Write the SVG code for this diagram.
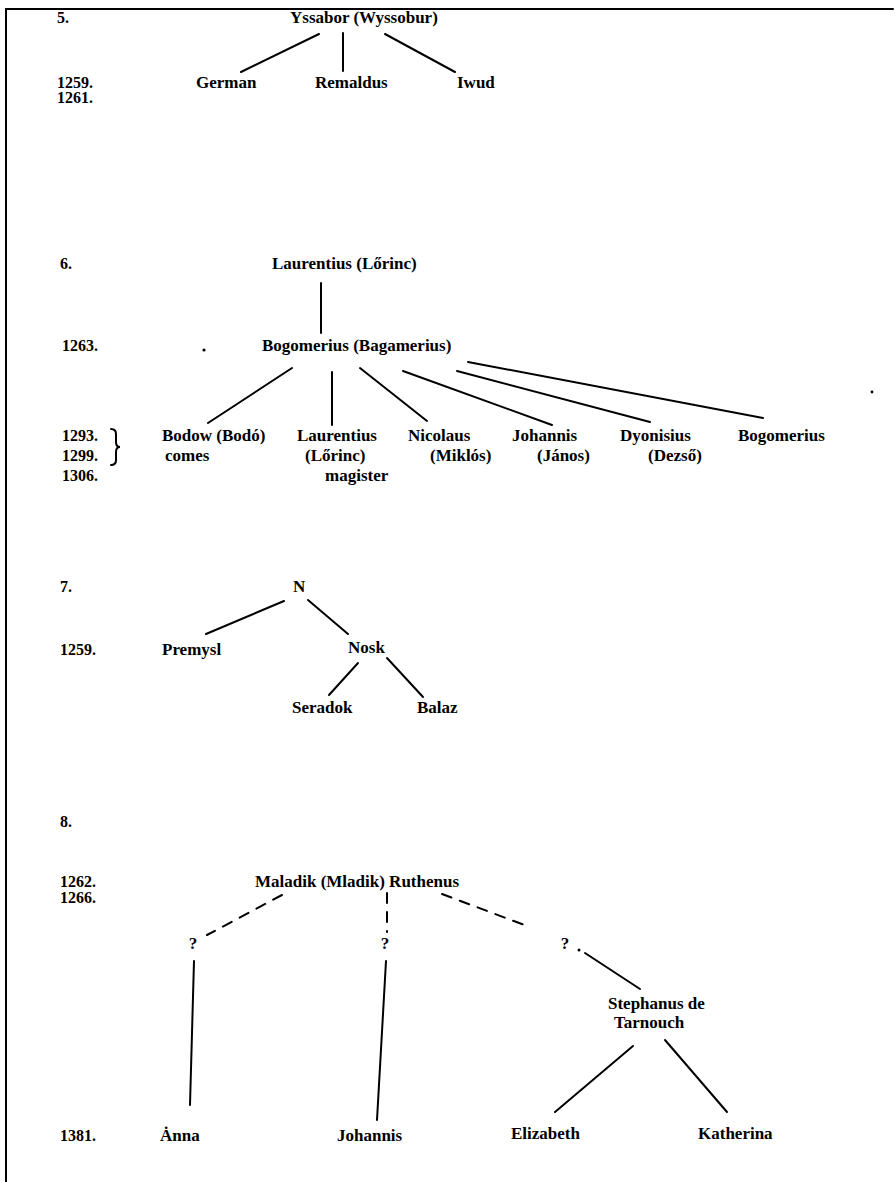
<svg xmlns="http://www.w3.org/2000/svg" width="895" height="1182" viewBox="0 0 895 1182">
<style>
text{font-family:"Liberation Serif","Times New Roman",serif;font-weight:bold;font-size:17px;fill:#000}
.d{font-size:16px}
.c{text-anchor:middle}
line,path{stroke:#000;stroke-width:2;fill:none;stroke-linecap:round}
.dash{stroke-dasharray:10 9}
</style>
<rect width="895" height="1182" fill="#fff"/>
<path id="frame" d="M6,1182 V9 H893"/>
<g id="labels">
<text class="d" x="57" y="23">5.</text>
<text class="d" x="57" y="88">1259.</text>
<text class="d" x="57" y="103">1261.</text>
<text class="d" x="60" y="269">6.</text>
<text class="d" x="62" y="351">1263.</text>
<text class="d" x="62" y="441">1293.</text>
<text class="d" x="62" y="461">1299.</text>
<text class="d" x="62" y="481">1306.</text>
<text class="d" x="60" y="592">7.</text>
<text class="d" x="60" y="655">1259.</text>
<text class="d" x="60" y="827">8.</text>
<text class="d" x="60" y="887">1262.</text>
<text class="d" x="60" y="903">1266.</text>
<text class="d" x="60" y="1141">1381.</text>
<path d="M111,429 Q116,429 116,434 V442 Q116,447 120,447 Q116,447 116,452 V460 Q116,465 111,465" stroke-width="1.5"/>
<circle cx="204" cy="350" r="1.6" fill="#000" stroke="none"/>
<circle cx="872" cy="392" r="1.4" fill="#000" stroke="none"/>
</g>
<g id="connectors">
<line x1="319" y1="34" x2="241" y2="72"/>
<line x1="343" y1="33" x2="343" y2="71"/>
<line x1="385" y1="34" x2="455" y2="72"/>
<line x1="321" y1="283" x2="321" y2="333"/>
<line x1="292" y1="368" x2="208" y2="423"/>
<line x1="332" y1="372" x2="332" y2="425"/>
<line x1="360" y1="368" x2="427" y2="421"/>
<line x1="403" y1="371" x2="552" y2="425"/>
<line x1="457" y1="371" x2="650" y2="422"/>
<line x1="468" y1="362" x2="763" y2="418"/>
<line x1="284" y1="601" x2="206" y2="634"/>
<line x1="308" y1="600" x2="348" y2="634"/>
<line x1="358" y1="663" x2="329" y2="695"/>
<line x1="387" y1="658" x2="423" y2="697"/>
<line class="dash" x1="282" y1="895" x2="207" y2="935"/>
<line class="dash" x1="387" y1="893" x2="387" y2="932"/>
<line class="dash" x1="442" y1="894" x2="527" y2="926"/>
<line x1="585" y1="953" x2="640" y2="989"/>
<circle cx="579" cy="950" r="1.5" fill="#000" stroke="none"/>
<line x1="194" y1="961" x2="190" y2="1105"/>
<line x1="386" y1="961" x2="377" y2="1120"/>
<line x1="633" y1="1046" x2="555" y2="1112"/>
<line x1="665" y1="1040" x2="727" y2="1112"/>
</g>
<g id="n-yssabor"><text x="290" y="23">Yssabor (Wyssobur)</text></g>
<g id="n-german"><text x="196" y="88">German</text></g>
<g id="n-remaldus"><text x="315" y="88">Remaldus</text></g>
<g id="n-iwud"><text x="457" y="88">Iwud</text></g>
<g id="n-laurentius"><text x="272" y="269">Laurentius (Lőrinc)</text></g>
<g id="n-bogomerius"><text x="262" y="351">Bogomerius (Bagamerius)</text></g>
<g id="n-bodow"><text x="162" y="441">Bodow (Bodó)</text><text x="165" y="461">comes</text></g>
<g id="n-laurentius2"><text x="297" y="441">Laurentius</text><text x="305" y="461">(Lőrinc)</text><text x="325" y="481">magister</text></g>
<g id="n-nicolaus"><text x="408" y="441">Nicolaus</text><text x="430" y="461">(Miklós)</text></g>
<g id="n-johannis"><text x="512" y="441">Johannis</text><text x="537" y="461">(János)</text></g>
<g id="n-dyonisius"><text x="620" y="441">Dyonisius</text><text x="648" y="461">(Dezső)</text></g>
<g id="n-bogomerius2"><text x="738" y="441">Bogomerius</text></g>
<g id="n-n"><text x="293" y="592">N</text></g>
<g id="n-premysl"><text x="162" y="655">Premysl</text></g>
<g id="n-nosk"><text x="348" y="653">Nosk</text></g>
<g id="n-seradok"><text x="292" y="713">Seradok</text></g>
<g id="n-balaz"><text x="417" y="713">Balaz</text></g>
<g id="n-maladik"><text x="255" y="887">Maladik (Mladik) Ruthenus</text></g>
<g id="n-q1"><text class="c" x="193" y="949">?</text></g>
<g id="n-q2"><text class="c" x="385" y="949">?</text></g>
<g id="n-q3"><text class="c" x="565" y="949">?</text></g>
<g id="n-stephanus"><text x="608" y="1009">Stephanus de</text><text x="614" y="1028">Tarnouch</text></g>
<g id="n-anna"><text x="160" y="1141">Ȧnna</text></g>
<g id="n-johannis2"><text x="337" y="1141">Johannis</text></g>
<g id="n-elizabeth"><text x="511" y="1139">Elizabeth</text></g>
<g id="n-katherina"><text x="698" y="1139">Katherina</text></g>
</svg>
